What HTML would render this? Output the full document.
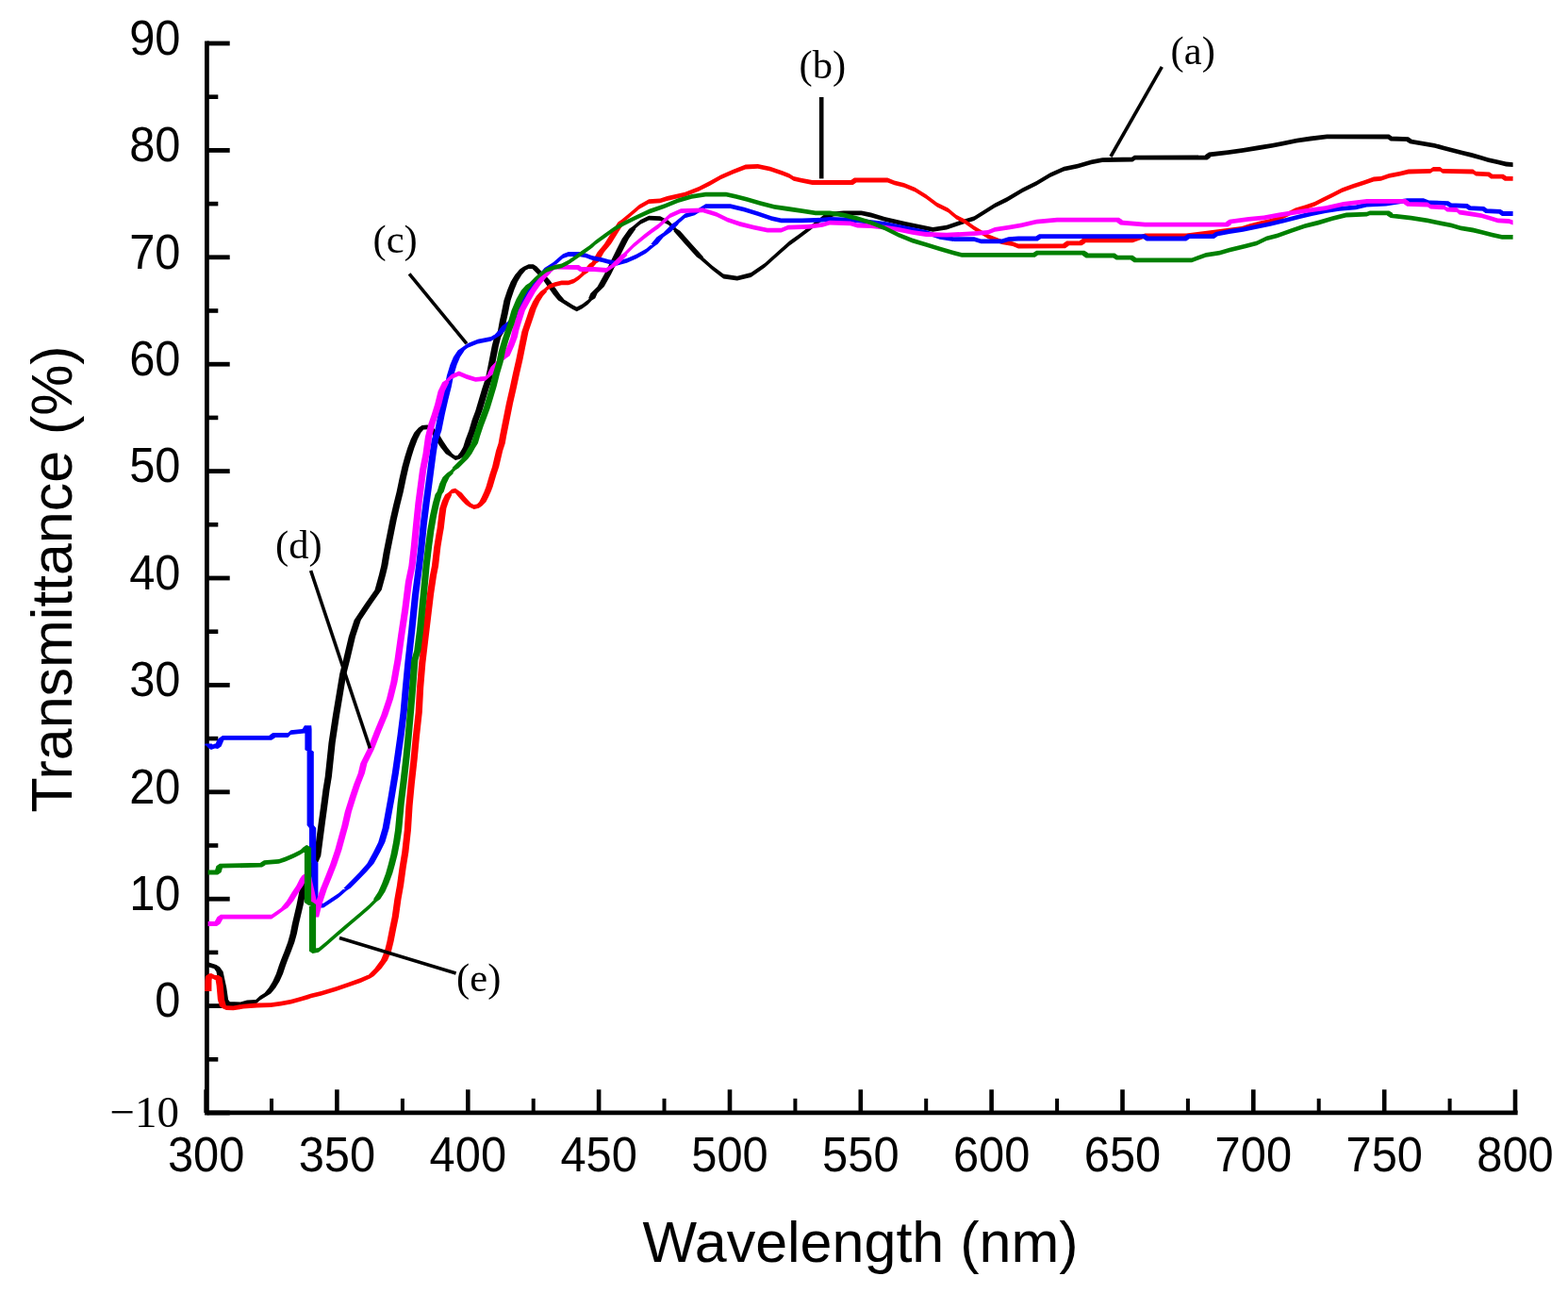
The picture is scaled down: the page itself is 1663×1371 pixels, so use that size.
<!DOCTYPE html>
<html><head><meta charset="utf-8"><title>Transmittance spectra</title>
<style>html,body{margin:0;padding:0;background:#fff;width:1663px;height:1371px;overflow:hidden}svg{display:block}</style>
</head><body>
<svg width="1663" height="1371" viewBox="0 0 1663 1371"><line x1="219.4" y1="43.6" x2="219.4" y2="1182.3000000000002" stroke="#000" stroke-width="4.8"/>
<line x1="217.0" y1="1179.9" x2="1609.6" y2="1179.9" stroke="#000" stroke-width="4.8"/>
<line x1="219.4" y1="46.0" x2="243.7" y2="46.0" stroke="#000" stroke-width="4.8"/>
<line x1="219.4" y1="102.7" x2="231.3" y2="102.7" stroke="#000" stroke-width="4.6"/>
<line x1="219.4" y1="159.4" x2="243.7" y2="159.4" stroke="#000" stroke-width="4.8"/>
<line x1="219.4" y1="216.1" x2="231.3" y2="216.1" stroke="#000" stroke-width="4.6"/>
<line x1="219.4" y1="272.8" x2="243.7" y2="272.8" stroke="#000" stroke-width="4.8"/>
<line x1="219.4" y1="329.5" x2="231.3" y2="329.5" stroke="#000" stroke-width="4.6"/>
<line x1="219.4" y1="386.2" x2="243.7" y2="386.2" stroke="#000" stroke-width="4.8"/>
<line x1="219.4" y1="442.9" x2="231.3" y2="442.9" stroke="#000" stroke-width="4.6"/>
<line x1="219.4" y1="499.6" x2="243.7" y2="499.6" stroke="#000" stroke-width="4.8"/>
<line x1="219.4" y1="556.3" x2="231.3" y2="556.3" stroke="#000" stroke-width="4.6"/>
<line x1="219.4" y1="613.0" x2="243.7" y2="613.0" stroke="#000" stroke-width="4.8"/>
<line x1="219.4" y1="669.7" x2="231.3" y2="669.7" stroke="#000" stroke-width="4.6"/>
<line x1="219.4" y1="726.4" x2="243.7" y2="726.4" stroke="#000" stroke-width="4.8"/>
<line x1="219.4" y1="783.1" x2="231.3" y2="783.1" stroke="#000" stroke-width="4.6"/>
<line x1="219.4" y1="839.8" x2="243.7" y2="839.8" stroke="#000" stroke-width="4.8"/>
<line x1="219.4" y1="896.5" x2="231.3" y2="896.5" stroke="#000" stroke-width="4.6"/>
<line x1="219.4" y1="953.2" x2="243.7" y2="953.2" stroke="#000" stroke-width="4.8"/>
<line x1="219.4" y1="1009.9" x2="231.3" y2="1009.9" stroke="#000" stroke-width="4.6"/>
<line x1="219.4" y1="1066.6" x2="243.7" y2="1066.6" stroke="#000" stroke-width="4.8"/>
<line x1="219.4" y1="1123.3" x2="231.3" y2="1123.3" stroke="#000" stroke-width="4.6"/>
<line x1="219.4" y1="1180.0" x2="243.7" y2="1180.0" stroke="#000" stroke-width="4.8"/>
<line x1="218.6" y1="1155.3" x2="218.6" y2="1179.9" stroke="#000" stroke-width="4.6"/>
<line x1="288.0" y1="1164.8" x2="288.0" y2="1179.9" stroke="#000" stroke-width="4.0"/>
<line x1="357.4" y1="1155.3" x2="357.4" y2="1179.9" stroke="#000" stroke-width="4.6"/>
<line x1="426.9" y1="1164.8" x2="426.9" y2="1179.9" stroke="#000" stroke-width="4.0"/>
<line x1="496.3" y1="1155.3" x2="496.3" y2="1179.9" stroke="#000" stroke-width="4.6"/>
<line x1="565.7" y1="1164.8" x2="565.7" y2="1179.9" stroke="#000" stroke-width="4.0"/>
<line x1="635.1" y1="1155.3" x2="635.1" y2="1179.9" stroke="#000" stroke-width="4.6"/>
<line x1="704.5" y1="1164.8" x2="704.5" y2="1179.9" stroke="#000" stroke-width="4.0"/>
<line x1="774.0" y1="1155.3" x2="774.0" y2="1179.9" stroke="#000" stroke-width="4.6"/>
<line x1="843.4" y1="1164.8" x2="843.4" y2="1179.9" stroke="#000" stroke-width="4.0"/>
<line x1="912.8" y1="1155.3" x2="912.8" y2="1179.9" stroke="#000" stroke-width="4.6"/>
<line x1="982.2" y1="1164.8" x2="982.2" y2="1179.9" stroke="#000" stroke-width="4.0"/>
<line x1="1051.6" y1="1155.3" x2="1051.6" y2="1179.9" stroke="#000" stroke-width="4.6"/>
<line x1="1121.1" y1="1164.8" x2="1121.1" y2="1179.9" stroke="#000" stroke-width="4.0"/>
<line x1="1190.5" y1="1155.3" x2="1190.5" y2="1179.9" stroke="#000" stroke-width="4.6"/>
<line x1="1259.9" y1="1164.8" x2="1259.9" y2="1179.9" stroke="#000" stroke-width="4.0"/>
<line x1="1329.3" y1="1155.3" x2="1329.3" y2="1179.9" stroke="#000" stroke-width="4.6"/>
<line x1="1398.7" y1="1164.8" x2="1398.7" y2="1179.9" stroke="#000" stroke-width="4.0"/>
<line x1="1468.2" y1="1155.3" x2="1468.2" y2="1179.9" stroke="#000" stroke-width="4.6"/>
<line x1="1537.6" y1="1164.8" x2="1537.6" y2="1179.9" stroke="#000" stroke-width="4.0"/>
<line x1="1607.0" y1="1155.3" x2="1607.0" y2="1179.9" stroke="#000" stroke-width="4.6"/>
<text transform="translate(191.5,57.8) scale(0.93,1)" text-anchor="end" font-family="Liberation Sans, Arial, sans-serif" font-size="52.5">90</text>
<text transform="translate(191.5,171.2) scale(0.93,1)" text-anchor="end" font-family="Liberation Sans, Arial, sans-serif" font-size="52.5">80</text>
<text transform="translate(191.5,284.6) scale(0.93,1)" text-anchor="end" font-family="Liberation Sans, Arial, sans-serif" font-size="52.5">70</text>
<text transform="translate(191.5,398.0) scale(0.93,1)" text-anchor="end" font-family="Liberation Sans, Arial, sans-serif" font-size="52.5">60</text>
<text transform="translate(191.5,511.4) scale(0.93,1)" text-anchor="end" font-family="Liberation Sans, Arial, sans-serif" font-size="52.5">50</text>
<text transform="translate(191.5,624.8) scale(0.93,1)" text-anchor="end" font-family="Liberation Sans, Arial, sans-serif" font-size="52.5">40</text>
<text transform="translate(191.5,738.2) scale(0.93,1)" text-anchor="end" font-family="Liberation Sans, Arial, sans-serif" font-size="52.5">30</text>
<text transform="translate(191.5,851.6) scale(0.93,1)" text-anchor="end" font-family="Liberation Sans, Arial, sans-serif" font-size="52.5">20</text>
<text transform="translate(191.5,965.0) scale(0.93,1)" text-anchor="end" font-family="Liberation Sans, Arial, sans-serif" font-size="52.5">10</text>
<text transform="translate(191.5,1078.4) scale(0.93,1)" text-anchor="end" font-family="Liberation Sans, Arial, sans-serif" font-size="52.5">0</text>
<text x="190" y="1194.7" text-anchor="end" font-family="Liberation Serif, Times New Roman, serif" font-size="47">−10</text>
<text transform="translate(218.6,1241.5) scale(0.93,1)" text-anchor="middle" font-family="Liberation Sans, Arial, sans-serif" font-size="52.5">300</text>
<text transform="translate(357.4,1241.5) scale(0.93,1)" text-anchor="middle" font-family="Liberation Sans, Arial, sans-serif" font-size="52.5">350</text>
<text transform="translate(496.3,1241.5) scale(0.93,1)" text-anchor="middle" font-family="Liberation Sans, Arial, sans-serif" font-size="52.5">400</text>
<text transform="translate(635.1,1241.5) scale(0.93,1)" text-anchor="middle" font-family="Liberation Sans, Arial, sans-serif" font-size="52.5">450</text>
<text transform="translate(774.0,1241.5) scale(0.93,1)" text-anchor="middle" font-family="Liberation Sans, Arial, sans-serif" font-size="52.5">500</text>
<text transform="translate(912.8,1241.5) scale(0.93,1)" text-anchor="middle" font-family="Liberation Sans, Arial, sans-serif" font-size="52.5">550</text>
<text transform="translate(1051.6,1241.5) scale(0.93,1)" text-anchor="middle" font-family="Liberation Sans, Arial, sans-serif" font-size="52.5">600</text>
<text transform="translate(1190.5,1241.5) scale(0.93,1)" text-anchor="middle" font-family="Liberation Sans, Arial, sans-serif" font-size="52.5">650</text>
<text transform="translate(1329.3,1241.5) scale(0.93,1)" text-anchor="middle" font-family="Liberation Sans, Arial, sans-serif" font-size="52.5">700</text>
<text transform="translate(1468.2,1241.5) scale(0.93,1)" text-anchor="middle" font-family="Liberation Sans, Arial, sans-serif" font-size="52.5">750</text>
<text transform="translate(1607.0,1241.5) scale(0.93,1)" text-anchor="middle" font-family="Liberation Sans, Arial, sans-serif" font-size="52.5">800</text>
<text x="681.4" y="1337.7" font-family="Liberation Sans, Arial, sans-serif" font-size="61">Wavelength (nm)</text>
<text transform="translate(75.8,861.4) rotate(-90) scale(0.982,1)" x="0" y="0" font-family="Liberation Sans, Arial, sans-serif" font-size="62">Transmittance (%)</text>
<text x="1265.2" y="67.9" text-anchor="middle" font-family="Liberation Serif, Times New Roman, serif" font-size="42.5">(a)</text>
<text x="872.3" y="82.6" text-anchor="middle" font-family="Liberation Serif, Times New Roman, serif" font-size="42.5">(b)</text>
<text x="419.1" y="268.4" text-anchor="middle" font-family="Liberation Serif, Times New Roman, serif" font-size="42.5">(c)</text>
<text x="316.9" y="592.0" text-anchor="middle" font-family="Liberation Serif, Times New Roman, serif" font-size="42.5">(d)</text>
<text x="507.7" y="1051.4" text-anchor="middle" font-family="Liberation Serif, Times New Roman, serif" font-size="42.5">(e)</text>
<path d="M220.6,1020.3 L221.5,1020.6 L221.5,1025.4 L220.6,1025.1ZM221.5,1020.6 L229.4,1022.9 L229.4,1027.7 L221.5,1025.4ZM225.8,1025.3 L233,1025.3 L236.6,1030.3 L229.4,1030.3ZM229.4,1030.3 L236.6,1030.3 L240.2,1046.9 L233,1046.9ZM233,1046.9 L240.2,1046.9 L242.1,1060 L234.9,1060ZM234.9,1060 L242.1,1060 L245.6,1064.5 L238.4,1064.5ZM242,1062.1 L255,1062.6 L255,1067.4 L242,1066.9ZM255,1062.6 L262,1060.6 L262,1065.4 L255,1067.4ZM262,1060.6 L271.3,1060 L271.3,1064.8 L262,1065.4ZM271.3,1060 L275.6,1056 L275.6,1060.8 L271.3,1064.8ZM275.6,1056 L283.6,1051 L283.6,1055.8 L275.6,1060.8ZM285,1047.6 L292.2,1047.6 L287.2,1053.4 L280,1053.4ZM289.3,1040.4 L296.5,1040.4 L292.2,1047.6 L285,1047.6ZM292.9,1032.5 L300.1,1032.5 L296.5,1040.4 L289.3,1040.4ZM295.8,1023.8 L303,1023.8 L300.1,1032.5 L292.9,1032.5ZM298.7,1015.9 L305.9,1015.9 L303,1023.8 L295.8,1023.8ZM301.6,1008.7 L308.8,1008.7 L305.9,1015.9 L298.7,1015.9ZM305.2,999 L312.4,999 L308.8,1008.7 L301.6,1008.7ZM307.7,990 L314.9,990 L312.4,999 L305.2,999ZM309.7,980 L316.9,980 L314.9,990 L307.7,990ZM314.4,960 L321.6,960 L316.9,980 L309.7,980ZM317.9,942.5 L325.1,942.5 L321.6,960 L314.4,960ZM325.4,925 L332.6,925 L325.1,942.5 L317.9,942.5ZM333.1,907.5 L340.3,907.5 L332.6,925 L325.4,925ZM335.4,890 L342.6,890 L340.3,907.5 L333.1,907.5ZM337.7,872.5 L344.9,872.5 L342.6,890 L335.4,890ZM340.1,855 L347.3,855 L344.9,872.5 L337.7,872.5ZM342.4,837.5 L349.6,837.5 L347.3,855 L340.1,855ZM344.7,823.5 L351.9,823.5 L349.6,837.5 L342.4,837.5ZM348.5,787.5 L355.7,787.5 L351.9,823.5 L344.7,823.5ZM352.9,758.4 L360.1,758.4 L355.7,787.5 L348.5,787.5ZM357.3,732.1 L364.5,732.1 L360.1,758.4 L352.9,758.4ZM360.2,714.6 L367.4,714.6 L364.5,732.1 L357.3,732.1ZM363.9,700 L371.1,700 L367.4,714.6 L360.2,714.6ZM369.8,675 L377,675 L371.1,700 L363.9,700ZM375.6,657.5 L382.8,657.5 L377,675 L369.8,675ZM387.3,640 L394.5,640 L382.8,657.5 L375.6,657.5ZM397.5,625.5 L404.7,625.5 L394.5,640 L387.3,640ZM401.9,609.4 L409.1,609.4 L404.7,625.5 L397.5,625.5ZM404.2,600 L411.4,600 L409.1,609.4 L401.9,609.4ZM406.6,585.8 L413.8,585.8 L411.4,600 L404.2,600ZM410.1,568.3 L417.3,568.3 L413.8,585.8 L406.6,585.8ZM413.6,550.8 L420.8,550.8 L417.3,568.3 L410.1,568.3ZM417.1,535.6 L424.3,535.6 L420.8,550.8 L413.6,550.8ZM420.6,521.6 L427.8,521.6 L424.3,535.6 L417.1,535.6ZM423.5,507.6 L430.7,507.6 L427.8,521.6 L420.6,521.6ZM426.4,494.8 L433.6,494.8 L430.7,507.6 L423.5,507.6ZM429.3,484.3 L436.5,484.3 L433.6,494.8 L426.4,494.8ZM432.2,475 L439.4,475 L436.5,484.3 L429.3,484.3ZM435.7,465.7 L442.9,465.7 L439.4,475 L432.2,475ZM439.2,458.7 L446.4,458.7 L442.9,465.7 L435.7,465.7ZM443.9,453.4 L451.1,453.4 L446.4,458.7 L439.2,458.7ZM447.5,451 L453.3,450.4 L453.3,455.2 L447.5,455.8ZM453.3,450.4 L457,452.1 L457,456.9 L453.3,455.2ZM453.4,454.5 L460.6,454.5 L465.1,459.5 L457.9,459.5ZM457.9,459.5 L465.1,459.5 L469.6,467 L462.4,467ZM462.4,467 L469.6,467 L474.6,474.5 L467.4,474.5ZM467.4,474.5 L474.6,474.5 L480,481.2 L472.8,481.2ZM476.4,478.8 L483,483.3 L483,488.1 L476.4,483.6ZM483,483.3 L487.6,482 L487.6,486.8 L483,488.1ZM487.9,479.8 L495.1,479.8 L491.2,484.4 L484,484.4ZM491.2,473.9 L498.4,473.9 L495.1,479.8 L487.9,479.8ZM493.7,466 L500.9,466 L498.4,473.9 L491.2,473.9ZM497.2,456.7 L504.4,456.7 L500.9,466 L493.7,466ZM500.7,445 L507.9,445 L504.4,456.7 L497.2,456.7ZM504.2,435.7 L511.4,435.7 L507.9,445 L500.7,445ZM507.7,424 L514.9,424 L511.4,435.7 L504.2,435.7ZM511.2,412.3 L518.4,412.3 L514.9,424 L507.7,424ZM514.7,401.8 L521.9,401.8 L518.4,412.3 L511.2,412.3ZM517.1,390.2 L524.3,390.2 L521.9,401.8 L514.7,401.8ZM519.4,378.5 L526.6,378.5 L524.3,390.2 L517.1,390.2ZM521.7,366.8 L528.9,366.8 L526.6,378.5 L519.4,378.5ZM524.1,357.5 L531.3,357.5 L528.9,366.8 L521.7,366.8ZM527.9,351 L535.1,351 L531.3,357.5 L524.1,357.5ZM529.9,340 L537.1,340 L535.1,351 L527.9,351ZM531.5,332.9 L538.7,332.9 L537.1,340 L529.9,340ZM534.4,318.4 L541.6,318.4 L538.7,332.9 L531.5,332.9ZM538.1,307.4 L545.3,307.4 L541.6,318.4 L534.4,318.4ZM541.7,298.7 L548.9,298.7 L545.3,307.4 L538.1,307.4ZM546.1,291.4 L553.3,291.4 L548.9,298.7 L541.7,298.7ZM551.2,285.5 L558.4,285.5 L553.3,291.4 L546.1,291.4ZM554.8,283.1 L560.6,280.2 L560.6,285 L554.8,287.9ZM560.6,280.2 L565.7,280.2 L565.7,285 L560.6,285ZM562.1,282.6 L569.3,282.6 L574.4,287.7 L567.2,287.7ZM567.2,287.7 L574.4,287.7 L579.1,292.5 L571.9,292.5ZM571.9,292.5 L579.1,292.5 L583.9,297.9 L576.7,297.9ZM576.7,297.9 L583.9,297.9 L589,305.2 L581.8,305.2ZM581.8,305.2 L589,305.2 L594.1,312.5 L586.9,312.5ZM586.9,312.5 L594.1,312.5 L599.2,318.4 L592,318.4ZM595.6,316 L601.5,319.6 L601.5,324.4 L595.6,320.8ZM601.5,319.6 L607.3,323.2 L607.3,328 L601.5,324.4ZM607.3,323.2 L611.7,325.4 L611.7,330.2 L607.3,328ZM611.7,325.4 L617.5,322.5 L617.5,327.3 L611.7,330.2ZM617.5,322.5 L623.4,318.1 L623.4,322.9 L617.5,327.3ZM623.4,318.1 L627.7,313.8 L627.7,318.6 L623.4,322.9ZM626.4,311.1 L633.6,311.1 L631.3,316.2 L624.1,316.2ZM633.5,304 L640.7,304 L633.6,311.1 L626.4,311.1ZM640.8,290.9 L648,290.9 L640.7,304 L633.5,304ZM648.1,276.3 L655.3,276.3 L648,290.9 L640.8,290.9ZM653.9,264.6 L661.1,264.6 L655.3,276.3 L648.1,276.3ZM659.8,252.9 L667,252.9 L661.1,264.6 L653.9,264.6ZM667.1,242.7 L674.3,242.7 L667,252.9 L659.8,252.9ZM670.7,240.3 L679.4,233 L679.4,237.8 L670.7,245.1ZM679.4,233 L688.2,228.7 L688.2,233.5 L679.4,237.8ZM688.2,228.7 L700.2,229.3 L700.2,234.1 L688.2,233.5ZM700.2,229.3 L709,233.7 L709,238.5 L700.2,234.1ZM709,233.7 L717.7,242.4 L717.7,247.2 L709,238.5ZM714.1,244.8 L721.3,244.8 L733,258 L725.8,258ZM725.8,258 L733,258 L746.1,272.5 L738.9,272.5ZM742.5,270.1 L755.6,281.8 L755.6,286.6 L742.5,274.9ZM755.6,281.8 L767.3,290.6 L767.3,295.4 L755.6,286.6ZM767.3,290.6 L781.9,292.8 L781.9,297.6 L767.3,295.4ZM781.9,292.8 L796.5,289.1 L796.5,293.9 L781.9,297.6ZM796.5,289.1 L811.1,278.9 L811.1,283.7 L796.5,293.9ZM811.1,278.9 L824.2,267.2 L824.2,272 L811.1,283.7ZM824.2,267.2 L837.3,255.6 L837.3,260.4 L824.2,272ZM837.3,255.6 L847.6,248.3 L847.6,253.1 L837.3,260.4ZM847.6,248.3 L859.2,239.5 L859.2,244.3 L847.6,253.1ZM859.2,239.5 L873.8,227.8 L873.8,232.6 L859.2,244.3ZM873.8,227.8 L884,224.6 L884,229.4 L873.8,232.6ZM884,224.6 L894.6,223.5 L894.6,228.3 L884,229.4ZM894.6,223.5 L913.6,223.5 L913.6,228.3 L894.6,228.3ZM913.6,223.5 L923.8,225.6 L923.8,230.4 L913.6,228.3ZM923.8,225.6 L938.4,230 L938.4,234.8 L923.8,230.4ZM938.4,230 L960.2,235.1 L960.2,239.9 L938.4,234.8ZM960.2,235.1 L974.8,238 L974.8,242.8 L960.2,239.9ZM974.8,238 L989.4,241 L989.4,245.8 L974.8,242.8ZM989.4,241 L1004,238.8 L1004,243.6 L989.4,245.8ZM1004,238.8 L1018.6,233.7 L1018.6,238.5 L1004,243.6ZM1018.6,233.7 L1033.2,229.3 L1033.2,234.1 L1018.6,238.5ZM1033.2,229.3 L1044.8,222 L1044.8,226.8 L1033.2,234.1ZM1044.8,222 L1055.1,215.4 L1055.1,220.2 L1044.8,226.8ZM1055.1,215.4 L1068,209.1 L1068,213.9 L1055.1,220.2ZM1068,209.1 L1084.6,199.3 L1084.6,204.1 L1068,213.9ZM1084.6,199.3 L1099.2,192 L1099.2,196.8 L1084.6,204.1ZM1099.2,192 L1113.8,183.2 L1113.8,188 L1099.2,196.8ZM1113.8,183.2 L1128.4,176.7 L1128.4,181.5 L1113.8,188ZM1128.4,176.7 L1142.9,173.8 L1142.9,178.6 L1128.4,181.5ZM1142.9,173.8 L1157.5,169.4 L1157.5,174.2 L1142.9,178.6ZM1157.5,169.4 L1169.2,167.2 L1169.2,172 L1157.5,174.2ZM1169.2,167.2 L1201.3,166.6 L1201.3,171.4 L1169.2,172ZM1199.4,167.2 L1206.6,167.2 L1204.9,169 L1197.7,169ZM1203,164.8 L1280.4,164.6 L1280.4,169.4 L1203,169.6ZM1278.4,164 L1285.6,164 L1284,167 L1276.8,167ZM1282,161.6 L1302.3,159.2 L1302.3,164 L1282,166.4ZM1302.3,159.2 L1318.4,157 L1318.4,161.8 L1302.3,164ZM1318.4,157 L1335.9,154.1 L1335.9,158.9 L1318.4,161.8ZM1335.9,154.1 L1349,151.9 L1349,156.7 L1335.9,158.9ZM1349,151.9 L1360.7,149.7 L1360.7,154.5 L1349,156.7ZM1360.7,149.7 L1375.2,146.8 L1375.2,151.6 L1360.7,154.5ZM1375.2,146.8 L1389.8,144.6 L1389.8,149.4 L1375.2,151.6ZM1389.8,144.6 L1407.3,142.4 L1407.3,147.2 L1389.8,149.4ZM1407.3,142.4 L1473.3,142.6 L1473.3,147.4 L1407.3,147.2ZM1469.7,145 L1476.9,145 L1478.4,147 L1471.2,147ZM1474.8,144.6 L1493.8,145.3 L1493.8,150.1 L1474.8,149.4ZM1490.2,147.7 L1497.4,147.7 L1498.8,149.9 L1491.6,149.9ZM1495.2,147.5 L1508.4,149.7 L1508.4,154.5 L1495.2,152.3ZM1508.4,149.7 L1521.5,151.9 L1521.5,156.7 L1508.4,154.5ZM1521.5,151.9 L1531.7,154.8 L1531.7,159.6 L1521.5,156.7ZM1531.7,154.8 L1540.4,157 L1540.4,161.8 L1531.7,159.6ZM1540.4,157 L1552.1,159.9 L1552.1,164.7 L1540.4,161.8ZM1552.1,159.9 L1560.9,162.1 L1560.9,166.9 L1552.1,164.7ZM1560.9,162.1 L1571.1,165 L1571.1,169.8 L1560.9,166.9ZM1571.1,165 L1578.4,167.2 L1578.4,172 L1571.1,169.8ZM1578.4,167.2 L1588.6,169.4 L1588.6,174.2 L1578.4,172ZM1588.6,169.4 L1597.3,171.6 L1597.3,176.4 L1588.6,174.2ZM1597.3,171.6 L1604.6,172.3 L1604.6,177.1 L1597.3,176.4ZM229.4,1022.9 L233,1025.3 L229.4,1027.7 L225.8,1025.3ZM242,1062.1 L245.6,1064.5 L242,1066.9 L238.4,1064.5ZM283.6,1051 L287.2,1053.4 L283.6,1055.8 L280,1053.4ZM447.5,451 L451.1,453.4 L447.5,455.8 L443.9,453.4ZM457,452.1 L460.6,454.5 L457,456.9 L453.4,454.5ZM476.4,478.8 L480,481.2 L476.4,483.6 L472.8,481.2ZM487.6,482 L491.2,484.4 L487.6,486.8 L484,484.4ZM554.8,283.1 L558.4,285.5 L554.8,287.9 L551.2,285.5ZM565.7,280.2 L569.3,282.6 L565.7,285 L562.1,282.6ZM595.6,316 L599.2,318.4 L595.6,320.8 L592,318.4ZM627.7,313.8 L631.3,316.2 L627.7,318.6 L624.1,316.2ZM670.7,240.3 L674.3,242.7 L670.7,245.1 L667.1,242.7ZM717.7,242.4 L721.3,244.8 L717.7,247.2 L714.1,244.8ZM742.5,270.1 L746.1,272.5 L742.5,274.9 L738.9,272.5ZM1201.3,166.6 L1204.9,169 L1201.3,171.4 L1197.7,169ZM1203,164.8 L1206.6,167.2 L1203,169.6 L1199.4,167.2ZM1280.4,164.6 L1284,167 L1280.4,169.4 L1276.8,167ZM1282,161.6 L1285.6,164 L1282,166.4 L1278.4,164ZM1473.3,142.6 L1476.9,145 L1473.3,147.4 L1469.7,145ZM1474.8,144.6 L1478.4,147 L1474.8,149.4 L1471.2,147ZM1493.8,145.3 L1497.4,147.7 L1493.8,150.1 L1490.2,147.7ZM1495.2,147.5 L1498.8,149.9 L1495.2,152.3 L1491.6,149.9Z" fill="#000000"/>
<path d="M217.3,1040 L224.5,1040 L224.4,1051 L217.2,1051ZM217.9,1035 L225.1,1035 L224.5,1040 L217.3,1040ZM221.5,1032.6 L224,1032.1 L224,1036.9 L221.5,1037.4ZM224,1032.1 L228,1034.1 L228,1038.9 L224,1036.9ZM228,1034.1 L231.8,1034.1 L231.8,1038.9 L228,1038.9ZM228.2,1036.5 L235.4,1036.5 L236.8,1045 L229.6,1045ZM229.6,1045 L236.8,1045 L238.1,1060 L230.9,1060ZM230.9,1060 L238.1,1060 L240.1,1067 L232.9,1067ZM236.5,1064.6 L240,1066.2 L240,1071 L236.5,1069.4ZM240,1066.2 L247.5,1066.5 L247.5,1071.3 L240,1071ZM247.5,1066.5 L258.3,1064.7 L258.3,1069.5 L247.5,1071.3ZM258.3,1064.7 L272.7,1063.6 L272.7,1068.4 L258.3,1069.5ZM272.7,1063.6 L287.2,1063.3 L287.2,1068.1 L272.7,1068.4ZM287.2,1063.3 L298,1061.8 L298,1066.6 L287.2,1068.1ZM298,1061.8 L308.8,1059.7 L308.8,1064.5 L298,1066.6ZM308.8,1059.7 L319.6,1056.8 L319.6,1061.6 L308.8,1064.5ZM319.6,1056.8 L326.8,1054.6 L326.8,1059.4 L319.6,1061.6ZM326.8,1054.6 L330,1053.5 L330,1058.3 L326.8,1059.4ZM330,1053.5 L340.5,1050.9 L340.5,1055.7 L330,1058.3ZM340.5,1050.9 L356.3,1046.3 L356.3,1051.1 L340.5,1055.7ZM356.3,1046.3 L369.4,1041.7 L369.4,1046.5 L356.3,1051.1ZM369.4,1041.7 L382.5,1037.1 L382.5,1041.9 L369.4,1046.5ZM382.5,1037.1 L393,1032.5 L393,1037.3 L382.5,1041.9ZM397.3,1027 L404.5,1027 L396.6,1034.9 L389.4,1034.9ZM403.9,1017.9 L411.1,1017.9 L404.5,1027 L397.3,1027ZM407.8,1008.7 L415,1008.7 L411.1,1017.9 L403.9,1017.9ZM410.4,998.2 L417.6,998.2 L415,1008.7 L407.8,1008.7ZM413,985 L420.2,985 L417.6,998.2 L410.4,998.2ZM415.7,971.9 L422.9,971.9 L420.2,985 L413,985ZM418.3,953.5 L425.5,953.5 L422.9,971.9 L415.7,971.9ZM420.9,939.1 L428.1,939.1 L425.5,953.5 L418.3,953.5ZM423.6,919.4 L430.8,919.4 L428.1,939.1 L420.9,939.1ZM426.2,903.6 L433.4,903.6 L430.8,919.4 L423.6,919.4ZM428.8,880 L436,880 L433.4,903.6 L426.2,903.6ZM430.4,854.6 L437.6,854.6 L436,880 L428.8,880ZM432.6,831.3 L439.8,831.3 L437.6,854.6 L430.4,854.6ZM435.5,805 L442.7,805 L439.8,831.3 L432.6,831.3ZM437.7,781.7 L444.9,781.7 L442.7,805 L435.5,805ZM440.6,755.4 L447.8,755.4 L444.9,781.7 L437.7,781.7ZM442,729.2 L449.2,729.2 L447.8,755.4 L440.6,755.4ZM444.2,702.9 L451.4,702.9 L449.2,729.2 L442,729.2ZM446.9,680 L454.1,680 L451.4,702.9 L444.2,702.9ZM449.9,655 L457.1,655 L454.1,680 L446.9,680ZM452.9,630 L460.1,630 L457.1,655 L449.9,655ZM455.9,610 L463.1,610 L460.1,630 L452.9,630ZM457.9,600 L465.1,600 L463.1,610 L455.9,610ZM460.2,580 L467.4,580 L465.1,600 L457.9,600ZM462.5,566 L469.7,566 L467.4,580 L460.2,580ZM463.6,560 L470.8,560 L469.7,566 L462.5,566ZM464.9,548.7 L472.1,548.7 L470.8,560 L463.6,560ZM466.2,538.9 L473.4,538.9 L472.1,548.7 L464.9,548.7ZM468.9,531 L476.1,531 L473.4,538.9 L466.2,538.9ZM472.1,524.5 L479.3,524.5 L476.1,531 L468.9,531ZM475.7,522.1 L479,518.8 L479,523.6 L475.7,526.9ZM479,518.8 L483,517.8 L483,522.6 L479,523.6ZM483,517.8 L486.2,520.1 L486.2,524.9 L483,522.6ZM482.6,522.5 L489.8,522.5 L493.1,526.4 L485.9,526.4ZM485.9,526.4 L493.1,526.4 L497.1,531 L489.9,531ZM489.9,531 L497.1,531 L501,535 L493.8,535ZM497.4,532.6 L502.7,535.2 L502.7,540 L497.4,537.4ZM502.7,535.2 L507.9,533.9 L507.9,538.7 L502.7,540ZM508.2,532.3 L515.4,532.3 L511.5,536.3 L504.3,536.3ZM510.9,527.1 L518.1,527.1 L515.4,532.3 L508.2,532.3ZM513.5,521.2 L520.7,521.2 L518.1,527.1 L510.9,527.1ZM515.5,515.9 L522.7,515.9 L520.7,521.2 L513.5,521.2ZM517.4,509.4 L524.6,509.4 L522.7,515.9 L515.5,515.9ZM519.4,502.8 L526.6,502.8 L524.6,509.4 L517.4,509.4ZM522,494.9 L529.2,494.9 L526.6,502.8 L519.4,502.8ZM524,486.4 L531.2,486.4 L529.2,494.9 L522,494.9ZM526,477.9 L533.2,477.9 L531.2,486.4 L524,486.4ZM528.6,470 L535.8,470 L533.2,477.9 L526,477.9ZM529.9,462.5 L537.1,462.5 L535.8,470 L528.6,470ZM533.4,445 L540.6,445 L537.1,462.5 L529.9,462.5ZM536.9,427.5 L544.1,427.5 L540.6,445 L533.4,445ZM540.4,412.3 L547.6,412.3 L544.1,427.5 L536.9,427.5ZM543.9,396 L551.1,396 L547.6,412.3 L540.4,412.3ZM547.4,380.8 L554.6,380.8 L551.1,396 L543.9,396ZM549.7,369.2 L556.9,369.2 L554.6,380.8 L547.4,380.8ZM553.3,351.7 L560.5,351.7 L556.9,369.2 L549.7,369.2ZM558.5,336.6 L565.7,336.6 L560.5,351.7 L553.3,351.7ZM561.4,327.8 L568.6,327.8 L565.7,336.6 L558.5,336.6ZM565.1,319.8 L572.3,319.8 L568.6,327.8 L561.4,327.8ZM568.7,314 L575.9,314 L572.3,319.8 L565.1,319.8ZM573.1,308.9 L580.3,308.9 L575.9,314 L568.7,314ZM576.7,306.5 L582.5,301.4 L582.5,306.2 L576.7,311.3ZM582.5,301.4 L588.4,299.2 L588.4,304 L582.5,306.2ZM588.4,299.2 L595.6,297.4 L595.6,302.2 L588.4,304ZM595.6,297.4 L602.9,297.4 L602.9,302.2 L595.6,302.2ZM602.9,297.4 L608.8,295.5 L608.8,300.3 L602.9,302.2ZM608.8,295.5 L613.9,291.9 L613.9,296.7 L608.8,300.3ZM613.9,291.9 L619.7,286.8 L619.7,291.6 L613.9,296.7ZM621.2,284.1 L628.4,284.1 L623.3,289.2 L616.1,289.2ZM624.9,279.7 L632.1,279.7 L628.4,284.1 L621.2,284.1ZM628.5,277.3 L631.3,275.3 L631.3,280.1 L628.5,282.1ZM633.5,267.5 L640.7,267.5 L634.9,277.7 L627.7,277.7ZM640.8,258.8 L648,258.8 L640.7,267.5 L633.5,267.5ZM648.1,247.1 L655.3,247.1 L648,258.8 L640.8,258.8ZM655.4,235.4 L662.6,235.4 L655.3,247.1 L648.1,247.1ZM659,233 L667.8,225.7 L667.8,230.5 L659,237.8ZM667.8,225.7 L678,217 L678,221.8 L667.8,230.5ZM678,217 L688.2,211.2 L688.2,216 L678,221.8ZM688.2,211.2 L700,210.4 L700,215.2 L688.2,216ZM700,210.4 L707.5,208.1 L707.5,212.9 L700,215.2ZM707.5,208.1 L726.5,203.8 L726.5,208.6 L707.5,212.9ZM726.5,203.8 L741.1,197.9 L741.1,202.7 L726.5,208.6ZM741.1,197.9 L752.7,192.1 L752.7,196.9 L741.1,202.7ZM752.7,192.1 L764.4,185.5 L764.4,190.3 L752.7,196.9ZM764.4,185.5 L777.5,179.7 L777.5,184.5 L764.4,190.3ZM777.5,179.7 L790.7,174.6 L790.7,179.4 L777.5,184.5ZM790.7,174.6 L803.8,173.9 L803.8,178.7 L790.7,179.4ZM803.8,173.9 L816.9,176.8 L816.9,181.6 L803.8,178.7ZM816.9,176.8 L830,181.2 L830,186 L816.9,181.6ZM830,181.2 L837,184 L837,188.8 L830,186ZM837,184 L841.7,187 L841.7,191.8 L837,188.8ZM841.7,187 L849.3,188.7 L849.3,193.5 L841.7,191.8ZM849.3,188.7 L861.5,191.1 L861.5,195.9 L849.3,193.5ZM861.5,191.1 L904.7,191.1 L904.7,195.9 L861.5,195.9ZM902.4,191 L909.6,191 L908.3,193.5 L901.1,193.5ZM906,188.6 L941.3,188.6 L941.3,193.4 L906,193.4ZM941.3,188.6 L948.6,191.4 L948.6,196.2 L941.3,193.4ZM948.6,191.4 L958.8,194 L958.8,198.8 L948.6,196.2ZM958.8,194 L970.4,198.7 L970.4,203.5 L958.8,198.8ZM970.4,198.7 L982.1,206 L982.1,210.8 L970.4,203.5ZM982.1,206 L993.8,214.7 L993.8,219.5 L982.1,210.8ZM993.8,214.7 L1005.5,220.5 L1005.5,225.3 L993.8,219.5ZM1005.5,220.5 L1014.2,227.8 L1014.2,232.6 L1005.5,225.3ZM1014.2,227.8 L1023,232.2 L1023,237 L1014.2,232.6ZM1023,232.2 L1033.2,239.5 L1033.2,244.3 L1023,237ZM1033.2,239.5 L1047.8,248.3 L1047.8,253.1 L1033.2,244.3ZM1047.8,248.3 L1062.4,254.1 L1062.4,258.9 L1047.8,253.1ZM1062.4,254.1 L1074,256.3 L1074,261.1 L1062.4,258.9ZM1074,256.3 L1080,258.6 L1080,263.4 L1074,261.1ZM1080,258.6 L1129.8,258.4 L1129.8,263.2 L1080,263.4ZM1127.7,257.9 L1134.9,257.9 L1133.4,260.8 L1126.2,260.8ZM1131.3,255.5 L1147.3,255.5 L1147.3,260.3 L1131.3,260.3ZM1145.2,254.9 L1152.4,254.9 L1150.9,257.9 L1143.7,257.9ZM1148.8,252.5 L1201.3,252.5 L1201.3,257.3 L1148.8,257.3ZM1201.3,252.5 L1214.4,247.6 L1214.4,252.4 L1201.3,257.3ZM1214.4,247.6 L1258.2,247.6 L1258.2,252.4 L1214.4,252.4ZM1258.2,247.6 L1281.9,244.5 L1281.9,249.3 L1258.2,252.4ZM1281.9,244.5 L1299.4,242.3 L1299.4,247.1 L1281.9,249.3ZM1299.4,242.3 L1316.9,240.1 L1316.9,244.9 L1299.4,247.1ZM1316.9,240.1 L1325.6,237.2 L1325.6,242 L1316.9,244.9ZM1325.6,237.2 L1337.3,234.3 L1337.3,239.1 L1325.6,242ZM1337.3,234.3 L1347.5,232.1 L1347.5,236.9 L1337.3,239.1ZM1347.5,232.1 L1357.7,228.6 L1357.7,233.4 L1347.5,236.9ZM1357.7,228.6 L1366,224.6 L1366,229.4 L1357.7,233.4ZM1366,224.6 L1373.8,220.4 L1373.8,225.2 L1366,229.4ZM1373.8,220.4 L1384,217.5 L1384,222.3 L1373.8,225.2ZM1384,217.5 L1394.2,213.9 L1394.2,218.7 L1384,222.3ZM1394.2,213.9 L1403,209.5 L1403,214.3 L1394.2,218.7ZM1403,209.5 L1413.2,204.4 L1413.2,209.2 L1403,214.3ZM1413.2,204.4 L1423.4,199.3 L1423.4,204.1 L1413.2,209.2ZM1423.4,199.3 L1435.1,194.9 L1435.1,199.7 L1423.4,204.1ZM1435.1,194.9 L1446.7,191.3 L1446.7,196.1 L1435.1,199.7ZM1446.7,191.3 L1457,187.6 L1457,192.4 L1446.7,196.1ZM1457,187.6 L1464.6,186.9 L1464.6,191.7 L1457,192.4ZM1464.6,186.9 L1473.3,184 L1473.3,188.8 L1464.6,191.7ZM1473.3,184 L1485,181.8 L1485,186.6 L1473.3,188.8ZM1485,181.8 L1493.8,179.6 L1493.8,184.4 L1485,186.6ZM1493.8,179.6 L1517.1,178.9 L1517.1,183.7 L1493.8,184.4ZM1517.1,178.9 L1520,176.9 L1520,181.7 L1517.1,183.7ZM1520,176.9 L1527.3,176.9 L1527.3,181.7 L1520,181.7ZM1527.3,176.9 L1530,178.9 L1530,183.7 L1527.3,181.7ZM1530,178.9 L1562.3,179.6 L1562.3,184.4 L1530,183.7ZM1562.3,179.6 L1565.2,181.8 L1565.2,186.6 L1562.3,184.4ZM1565.2,181.8 L1579.8,182.5 L1579.8,187.3 L1565.2,186.6ZM1576.2,184.9 L1583.4,184.9 L1584.9,187.1 L1577.7,187.1ZM1581.3,184.7 L1594.4,184.7 L1594.4,189.5 L1581.3,189.5ZM1590.8,187.1 L1598,187.1 L1599.5,189.3 L1592.3,189.3ZM1595.9,186.9 L1604.6,186.9 L1604.6,191.7 L1595.9,191.7ZM221.5,1032.6 L225.1,1035 L221.5,1037.4 L217.9,1035ZM231.8,1034.1 L235.4,1036.5 L231.8,1038.9 L228.2,1036.5ZM236.5,1064.6 L240.1,1067 L236.5,1069.4 L232.9,1067ZM393,1032.5 L396.6,1034.9 L393,1037.3 L389.4,1034.9ZM475.7,522.1 L479.3,524.5 L475.7,526.9 L472.1,524.5ZM486.2,520.1 L489.8,522.5 L486.2,524.9 L482.6,522.5ZM497.4,532.6 L501,535 L497.4,537.4 L493.8,535ZM507.9,533.9 L511.5,536.3 L507.9,538.7 L504.3,536.3ZM576.7,306.5 L580.3,308.9 L576.7,311.3 L573.1,308.9ZM619.7,286.8 L623.3,289.2 L619.7,291.6 L616.1,289.2ZM628.5,277.3 L632.1,279.7 L628.5,282.1 L624.9,279.7ZM631.3,275.3 L634.9,277.7 L631.3,280.1 L627.7,277.7ZM659,233 L662.6,235.4 L659,237.8 L655.4,235.4ZM904.7,191.1 L908.3,193.5 L904.7,195.9 L901.1,193.5ZM906,188.6 L909.6,191 L906,193.4 L902.4,191ZM1129.8,258.4 L1133.4,260.8 L1129.8,263.2 L1126.2,260.8ZM1131.3,255.5 L1134.9,257.9 L1131.3,260.3 L1127.7,257.9ZM1147.3,255.5 L1150.9,257.9 L1147.3,260.3 L1143.7,257.9ZM1148.8,252.5 L1152.4,254.9 L1148.8,257.3 L1145.2,254.9ZM1579.8,182.5 L1583.4,184.9 L1579.8,187.3 L1576.2,184.9ZM1581.3,184.7 L1584.9,187.1 L1581.3,189.5 L1577.7,187.1ZM1594.4,184.7 L1598,187.1 L1594.4,189.5 L1590.8,187.1ZM1595.9,186.9 L1599.5,189.3 L1595.9,191.7 L1592.3,189.3Z" fill="#ff0000"/>
<path d="M217.4,788.5 L224.6,788.5 L224.2,790.4 L217,790.4ZM217.4,788.5 L224.6,788.5 L227.4,792.6 L220.2,792.6ZM223.8,790.2 L228,788.6 L228,793.4 L223.8,795ZM228,788.6 L231,789.1 L231,793.9 L228,793.4ZM230.4,784.6 L237.6,784.6 L234.6,791.5 L227.4,791.5ZM232.4,782.4 L239.6,782.4 L237.6,784.6 L230.4,784.6ZM236,780 L288,780 L288,784.8 L236,784.8ZM285.8,779.5 L293,779.5 L291.6,782.4 L284.4,782.4ZM289.4,777.1 L305.4,777.1 L305.4,781.9 L289.4,781.9ZM305.4,777.1 L308.4,774.2 L308.4,779 L305.4,781.9ZM308.4,774.2 L323,772.7 L323,777.5 L308.4,779ZM323,769.3 L330.2,769.3 L326.6,775.1 L319.4,775.1ZM323,769.3 L330.2,769.3 L330.6,773 L323.4,773ZM323.4,773 L330.6,773 L330.6,795 L323.4,795ZM327,792.6 L329.2,794.6 L329.2,799.4 L327,797.4ZM325.6,797 L332.8,797 L332.8,875 L325.6,875ZM325.6,875 L332.8,875 L335.2,878 L328,878ZM328,878 L335.2,878 L335.2,912 L328,912ZM328,912 L335.2,912 L337.4,915 L330.2,915ZM330.2,915 L337.4,915 L337.4,955 L330.2,955ZM330.2,955 L337.4,955 L340.6,960 L333.4,960ZM337,957.6 L343.1,957.7 L343.1,962.5 L337,962.4ZM343.1,957.7 L351,952.4 L351,957.2 L343.1,962.5ZM351,952.4 L358.9,947.2 L358.9,952 L351,957.2ZM358.9,947.2 L368.1,939.3 L368.1,944.1 L358.9,952ZM373.7,932.5 L380.9,932.5 L371.7,941.7 L364.5,941.7ZM381.5,924.6 L388.7,924.6 L380.9,932.5 L373.7,932.5ZM389.4,915.4 L396.6,915.4 L388.7,924.6 L381.5,924.6ZM396,903.6 L403.2,903.6 L396.6,915.4 L389.4,915.4ZM401.2,893.1 L408.4,893.1 L403.2,903.6 L396,903.6ZM405.6,878 L412.8,878 L408.4,893.1 L401.2,893.1ZM411.4,845.9 L418.6,845.9 L412.8,878 L405.6,878ZM415.8,819.6 L423,819.6 L418.6,845.9 L411.4,845.9ZM418.7,799.2 L425.9,799.2 L423,819.6 L415.8,819.6ZM421.6,778.8 L428.8,778.8 L425.9,799.2 L418.7,799.2ZM424.5,755.4 L431.7,755.4 L428.8,778.8 L421.6,778.8ZM426.7,730.6 L433.9,730.6 L431.7,755.4 L424.5,755.4ZM428.9,707.3 L436.1,707.3 L433.9,730.6 L426.7,730.6ZM429.6,700 L436.8,700 L436.1,707.3 L428.9,707.3ZM433.2,667.8 L440.4,667.8 L436.8,700 L429.6,700ZM436.9,631.3 L444.1,631.3 L440.4,667.8 L433.2,667.8ZM441,600 L448.2,600 L444.1,631.3 L436.9,631.3ZM443.3,580 L450.5,580 L448.2,600 L441,600ZM445.6,556.6 L452.8,556.6 L450.5,580 L443.3,580ZM448.5,533.3 L455.7,533.3 L452.8,556.6 L445.6,556.6ZM450.9,515.8 L458.1,515.8 L455.7,533.3 L448.5,533.3ZM453.2,498.3 L460.4,498.3 L458.1,515.8 L450.9,515.8ZM455.5,480.8 L462.7,480.8 L460.4,498.3 L453.2,498.3ZM457.9,465.7 L465.1,465.7 L462.7,480.8 L455.5,480.8ZM461.1,456.7 L468.3,456.7 L465.1,465.7 L457.9,465.7ZM464.6,439.2 L471.8,439.2 L468.3,456.7 L461.1,456.7ZM468.1,424 L475.3,424 L471.8,439.2 L464.6,439.2ZM471.6,410 L478.8,410 L475.3,424 L468.1,424ZM473.9,398.3 L481.1,398.3 L478.8,410 L471.6,410ZM477.4,386.7 L484.6,386.7 L481.1,398.3 L473.9,398.3ZM480.9,378.5 L488.1,378.5 L484.6,386.7 L477.4,386.7ZM485.6,371.5 L492.8,371.5 L488.1,378.5 L480.9,378.5ZM489.2,369.1 L496.2,363.9 L496.2,368.7 L489.2,373.9ZM496.2,363.9 L506.7,359.8 L506.7,364.6 L496.2,368.7ZM506.7,359.8 L520.7,356.9 L520.7,361.7 L506.7,364.6ZM520.7,356.9 L527.7,352.8 L527.7,357.6 L520.7,361.7ZM528.7,350.5 L535.9,350.5 L531.3,355.2 L524.1,355.2ZM532.4,345.5 L539.6,345.5 L535.9,350.5 L528.7,350.5ZM536,343.1 L541,338.6 L541,343.4 L536,347.9ZM541,338.6 L546,334.1 L546,338.9 L541,343.4ZM546,334.1 L551.2,329.1 L551.2,333.9 L546,338.9ZM550.5,325.6 L557.7,325.6 L554.8,331.5 L547.6,331.5ZM554.1,316.9 L561.3,316.9 L557.7,325.6 L550.5,325.6ZM557,311.1 L564.2,311.1 L561.3,316.9 L554.1,316.9ZM560,306.7 L567.2,306.7 L564.2,311.1 L557,311.1ZM568.4,295 L575.6,295 L567.2,306.7 L560,306.7ZM577.5,284.1 L584.7,284.1 L575.6,295 L568.4,295ZM581.1,281.7 L586.9,278 L586.9,282.8 L581.1,286.5ZM586.9,278 L592,273.6 L592,278.4 L586.9,282.8ZM592,273.6 L597.1,269.3 L597.1,274.1 L592,278.4ZM597.1,269.3 L602.9,267.1 L602.9,271.9 L597.1,274.1ZM602.9,267.1 L613.9,267.1 L613.9,271.9 L602.9,271.9ZM613.9,267.1 L621.2,268.5 L621.2,273.3 L613.9,271.9ZM621.2,268.5 L627,270.7 L627,275.5 L621.2,273.3ZM627,270.7 L630,271.5 L630,276.3 L627,275.5ZM630,271.5 L638.6,273.2 L638.6,278 L630,276.3ZM638.6,273.2 L645.9,275.3 L645.9,280.1 L638.6,278ZM645.9,275.3 L654.6,276.8 L654.6,281.6 L645.9,280.1ZM654.6,276.8 L664.8,273.9 L664.8,278.7 L654.6,281.6ZM664.8,273.9 L675.1,269.5 L675.1,274.3 L664.8,278.7ZM675.1,269.5 L685.3,263.7 L685.3,268.5 L675.1,274.3ZM685.3,263.7 L694,256.4 L694,261.2 L685.3,268.5ZM696.4,251.5 L703.6,251.5 L697.6,258.8 L690.4,258.8ZM700,249.1 L707.5,243.9 L707.5,248.7 L700,253.9ZM712.7,237.5 L719.9,237.5 L711.1,246.3 L703.9,246.3ZM716.3,235.1 L726.5,226.4 L726.5,231.2 L716.3,239.9ZM726.5,226.4 L736.7,223.5 L736.7,228.3 L726.5,231.2ZM736.7,223.5 L748.4,216.2 L748.4,221 L736.7,228.3ZM748.4,216.2 L774.6,216.2 L774.6,221 L748.4,221ZM774.6,216.2 L789.2,219.8 L789.2,224.6 L774.6,221ZM789.2,219.8 L803.8,224.2 L803.8,229 L789.2,224.6ZM803.8,224.2 L818.4,229.3 L818.4,234.1 L803.8,229ZM818.4,229.3 L828.6,231.5 L828.6,236.3 L818.4,234.1ZM828.6,231.5 L850.5,231.5 L850.5,236.3 L828.6,236.3ZM850.5,231.5 L872.4,230.8 L872.4,235.6 L850.5,236.3ZM872.4,230.8 L880,230 L880,234.8 L872.4,235.6ZM880,230 L901.9,230.8 L901.9,235.6 L880,234.8ZM901.9,230.8 L916.5,232.2 L916.5,237 L901.9,235.6ZM916.5,232.2 L938.4,235.1 L938.4,239.9 L916.5,237ZM938.4,235.1 L960.2,239.5 L960.2,244.3 L938.4,239.9ZM960.2,239.5 L982.1,243.9 L982.1,248.7 L960.2,244.3ZM982.1,243.9 L996.7,249 L996.7,253.8 L982.1,248.7ZM996.7,249 L1011.3,251.2 L1011.3,256 L996.7,253.8ZM1011.3,251.2 L1033.2,251.2 L1033.2,256 L1011.3,256ZM1033.2,251.2 L1040.5,253.4 L1040.5,258.2 L1033.2,256ZM1040.5,253.4 L1062.4,253.4 L1062.4,258.2 L1040.5,258.2ZM1062.4,253.4 L1069.6,251.2 L1069.6,256 L1062.4,258.2ZM1069.6,251.2 L1080,250.6 L1080,255.4 L1069.6,256ZM1080,250.6 L1100.6,250.6 L1100.6,255.4 L1080,255.4ZM1098.5,250.6 L1105.7,250.6 L1104.2,253 L1097,253ZM1102.1,248.2 L1214.4,248.2 L1214.4,253 L1102.1,253ZM1210.8,250.6 L1218,250.6 L1219.5,253 L1212.3,253ZM1215.9,250.6 L1258.2,250.6 L1258.2,255.4 L1215.9,255.4ZM1256,250.6 L1263.2,250.6 L1261.8,253 L1254.6,253ZM1259.6,248.2 L1287.7,248.2 L1287.7,253 L1259.6,253ZM1285.6,248.4 L1292.8,248.4 L1291.3,250.6 L1284.1,250.6ZM1289.2,246 L1303.8,243.1 L1303.8,247.9 L1289.2,250.8ZM1303.8,243.1 L1318.4,240.9 L1318.4,245.7 L1303.8,247.9ZM1318.4,240.9 L1332.9,238 L1332.9,242.8 L1318.4,245.7ZM1332.9,238 L1347.5,235 L1347.5,239.8 L1332.9,242.8ZM1347.5,235 L1362.1,231.4 L1362.1,236.2 L1347.5,239.8ZM1362.1,231.4 L1376.7,227.7 L1376.7,232.5 L1362.1,236.2ZM1376.7,227.7 L1391.3,224.1 L1391.3,228.9 L1376.7,232.5ZM1391.3,224.1 L1405.9,221.2 L1405.9,226 L1391.3,228.9ZM1405.9,221.2 L1420.5,219 L1420.5,223.8 L1405.9,226ZM1420.5,219 L1438,217.5 L1438,222.3 L1420.5,223.8ZM1438,217.5 L1449.6,214.6 L1449.6,219.4 L1438,222.3ZM1449.6,214.6 L1470,213.6 L1470,218.4 L1449.6,219.4ZM1470,213.6 L1492.3,210.2 L1492.3,215 L1470,218.4ZM1492.3,210.2 L1509.8,210.2 L1509.8,215 L1492.3,215ZM1509.8,210.2 L1515.6,212.4 L1515.6,217.2 L1509.8,215ZM1515.6,212.4 L1536.1,213.2 L1536.1,218 L1515.6,217.2ZM1532.5,215.6 L1539.7,215.6 L1541.1,217.7 L1533.9,217.7ZM1537.5,215.3 L1556.5,216.1 L1556.5,220.9 L1537.5,220.1ZM1552.9,218.5 L1560.1,218.5 L1561.6,220.7 L1554.4,220.7ZM1558,218.3 L1574,219 L1574,223.8 L1558,223.1ZM1570.4,221.4 L1577.6,221.4 L1579.1,223.6 L1571.9,223.6ZM1575.5,221.2 L1591.5,221.9 L1591.5,226.7 L1575.5,226ZM1587.9,224.3 L1595.1,224.3 L1596.6,226.5 L1589.4,226.5ZM1593,224.1 L1604.6,224.1 L1604.6,228.9 L1593,228.9ZM223.8,790.2 L227.4,792.6 L223.8,795 L220.2,792.6ZM231,789.1 L234.6,791.5 L231,793.9 L227.4,791.5ZM236,780 L239.6,782.4 L236,784.8 L232.4,782.4ZM288,780 L291.6,782.4 L288,784.8 L284.4,782.4ZM289.4,777.1 L293,779.5 L289.4,781.9 L285.8,779.5ZM323,772.7 L326.6,775.1 L323,777.5 L319.4,775.1ZM327,792.6 L330.6,795 L327,797.4 L323.4,795ZM329.2,794.6 L332.8,797 L329.2,799.4 L325.6,797ZM337,957.6 L340.6,960 L337,962.4 L333.4,960ZM368.1,939.3 L371.7,941.7 L368.1,944.1 L364.5,941.7ZM489.2,369.1 L492.8,371.5 L489.2,373.9 L485.6,371.5ZM527.7,352.8 L531.3,355.2 L527.7,357.6 L524.1,355.2ZM536,343.1 L539.6,345.5 L536,347.9 L532.4,345.5ZM551.2,329.1 L554.8,331.5 L551.2,333.9 L547.6,331.5ZM581.1,281.7 L584.7,284.1 L581.1,286.5 L577.5,284.1ZM694,256.4 L697.6,258.8 L694,261.2 L690.4,258.8ZM700,249.1 L703.6,251.5 L700,253.9 L696.4,251.5ZM707.5,243.9 L711.1,246.3 L707.5,248.7 L703.9,246.3ZM716.3,235.1 L719.9,237.5 L716.3,239.9 L712.7,237.5ZM1100.6,250.6 L1104.2,253 L1100.6,255.4 L1097,253ZM1102.1,248.2 L1105.7,250.6 L1102.1,253 L1098.5,250.6ZM1214.4,248.2 L1218,250.6 L1214.4,253 L1210.8,250.6ZM1215.9,250.6 L1219.5,253 L1215.9,255.4 L1212.3,253ZM1258.2,250.6 L1261.8,253 L1258.2,255.4 L1254.6,253ZM1259.6,248.2 L1263.2,250.6 L1259.6,253 L1256,250.6ZM1287.7,248.2 L1291.3,250.6 L1287.7,253 L1284.1,250.6ZM1289.2,246 L1292.8,248.4 L1289.2,250.8 L1285.6,248.4ZM1536.1,213.2 L1539.7,215.6 L1536.1,218 L1532.5,215.6ZM1537.5,215.3 L1541.1,217.7 L1537.5,220.1 L1533.9,217.7ZM1556.5,216.1 L1560.1,218.5 L1556.5,220.9 L1552.9,218.5ZM1558,218.3 L1561.6,220.7 L1558,223.1 L1554.4,220.7ZM1574,219 L1577.6,221.4 L1574,223.8 L1570.4,221.4ZM1575.5,221.2 L1579.1,223.6 L1575.5,226 L1571.9,223.6ZM1591.5,221.9 L1595.1,224.3 L1591.5,226.7 L1587.9,224.3ZM1593,224.1 L1596.6,226.5 L1593,228.9 L1589.4,226.5Z" fill="#0000ff"/>
<path d="M220.6,977.1 L230,977.1 L230,981.9 L220.6,981.9ZM230.4,972.2 L237.6,972.2 L233.6,979.5 L226.4,979.5ZM234,969.8 L288,969.8 L288,974.6 L234,974.6ZM288,969.8 L295.2,964.7 L295.2,969.5 L288,974.6ZM295.2,964.7 L301.7,960 L301.7,964.8 L295.2,969.5ZM303.9,955.4 L311.1,955.4 L305.3,962.4 L298.1,962.4ZM309.7,946 L316.9,946 L311.1,955.4 L303.9,955.4ZM314.4,939 L321.6,939 L316.9,946 L309.7,946ZM317.9,932 L325.1,932 L321.6,939 L314.4,939ZM320.2,928.5 L327.4,928.5 L325.1,932 L317.9,932ZM323.8,926.1 L326,925.6 L326,930.4 L323.8,930.9ZM322.4,928 L329.6,928 L333.6,945 L326.4,945ZM326.4,945 L333.6,945 L336.8,960 L329.6,960ZM329.6,960 L336.8,960 L338.1,972.5 L330.9,972.5ZM334.3,958.8 L341.5,958.8 L338.1,972.5 L330.9,972.5ZM339.5,943 L346.7,943 L341.5,958.8 L334.3,958.8ZM344.8,929.9 L352,929.9 L346.7,943 L339.5,943ZM350,916.8 L357.2,916.8 L352,929.9 L344.8,929.9ZM355.3,901 L362.5,901 L357.2,916.8 L350,916.8ZM359.6,885.3 L366.8,885.3 L362.5,901 L355.3,901ZM362.2,876 L369.4,876 L366.8,885.3 L359.6,885.3ZM365.7,860.8 L372.9,860.8 L369.4,876 L362.2,876ZM370.4,845.7 L377.6,845.7 L372.9,860.8 L365.7,860.8ZM375.1,831.7 L382.3,831.7 L377.6,845.7 L370.4,845.7ZM379.7,820 L386.9,820 L382.3,831.7 L375.1,831.7ZM382.2,809.4 L389.4,809.4 L386.9,820 L379.7,820ZM389.5,794.8 L396.7,794.8 L389.4,809.4 L382.2,809.4ZM396.8,775.9 L404,775.9 L396.7,794.8 L389.5,794.8ZM404.1,758.4 L411.3,758.4 L404,775.9 L396.8,775.9ZM410,740.8 L417.2,740.8 L411.3,758.4 L404.1,758.4ZM414.3,723.3 L421.5,723.3 L417.2,740.8 L410,740.8ZM416.4,711 L423.6,711 L421.5,723.3 L414.3,723.3ZM418.4,700 L425.6,700 L423.6,711 L416.4,711ZM421.9,675 L429.1,675 L425.6,700 L418.4,700ZM426.2,645.9 L433.4,645.9 L429.1,675 L421.9,675ZM429.9,616.7 L437.1,616.7 L433.4,645.9 L426.2,645.9ZM433.4,600 L440.6,600 L437.1,616.7 L429.9,616.7ZM435.7,580 L442.9,580 L440.6,600 L433.4,600ZM438,556.6 L445.2,556.6 L442.9,580 L435.7,580ZM440.4,533.3 L447.6,533.3 L445.2,556.6 L438,556.6ZM442.7,515.8 L449.9,515.8 L447.6,533.3 L440.4,533.3ZM445,498.3 L452.2,498.3 L449.9,515.8 L442.7,515.8ZM448.5,480.8 L455.7,480.8 L452.2,498.3 L445,498.3ZM450.9,463.3 L458.1,463.3 L455.7,480.8 L448.5,480.8ZM454.4,449.3 L461.6,449.3 L458.1,463.3 L450.9,463.3ZM457.6,440 L464.8,440 L461.6,449.3 L454.4,449.3ZM461.1,428.7 L468.3,428.7 L464.8,440 L457.6,440ZM464.6,414.7 L471.8,414.7 L468.3,428.7 L461.1,428.7ZM469.2,405.3 L476.4,405.3 L471.8,414.7 L464.6,414.7ZM472.8,402.9 L478.7,397.1 L478.7,401.9 L472.8,407.7ZM478.7,397.1 L486.8,393.6 L486.8,398.4 L478.7,401.9ZM486.8,393.6 L495,397.1 L495,401.9 L486.8,398.4ZM495,397.1 L504.3,400 L504.3,404.8 L495,401.9ZM504.3,400 L514.8,398.9 L514.8,403.7 L504.3,404.8ZM514.8,398.9 L520.7,393.6 L520.7,398.4 L514.8,403.7ZM520.6,389 L527.8,389 L524.3,396 L517.1,396ZM526.4,383 L533.6,383 L527.8,389 L520.6,389ZM530,380.6 L537,374.9 L537,379.7 L530,385.4ZM538.1,366.8 L545.3,366.8 L540.6,377.3 L533.4,377.3ZM541.6,357.5 L548.8,357.5 L545.3,366.8 L538.1,366.8ZM543.2,350 L550.4,350 L548.8,357.5 L541.6,357.5ZM545,343.9 L552.2,343.9 L550.4,350 L543.2,350ZM549.7,329.3 L556.9,329.3 L552.2,343.9 L545,343.9ZM555.6,318.4 L562.8,318.4 L556.9,329.3 L549.7,329.3ZM560.7,309.6 L567.9,309.6 L562.8,318.4 L555.6,318.4ZM565.8,302.3 L573,302.3 L567.9,309.6 L560.7,309.6ZM571.6,295 L578.8,295 L573,302.3 L565.8,302.3ZM577.4,289 L584.6,289 L578.8,295 L571.6,295ZM581,286.6 L588.4,280.6 L588.4,285.4 L581,291.4ZM588.4,280.6 L602.9,280.9 L602.9,285.7 L588.4,285.4ZM602.9,280.9 L613.9,281.1 L613.9,285.9 L602.9,285.7ZM610.3,283.5 L617.5,283.5 L618.6,285.5 L611.4,285.5ZM615,283.1 L630,283.1 L630,287.9 L615,287.9ZM630,283.1 L643,284.1 L643,288.9 L630,287.9ZM643,284.1 L651.7,278.3 L651.7,283.1 L643,288.9ZM658.3,270.4 L665.5,270.4 L655.3,280.7 L648.1,280.7ZM661.9,268 L672.1,257.8 L672.1,262.6 L661.9,272.8ZM672.1,257.8 L683.8,248.1 L683.8,252.9 L672.1,262.6ZM683.8,248.1 L691,242.6 L691,247.4 L683.8,252.9ZM691,242.6 L698.8,237.1 L698.8,241.9 L691,247.4ZM698.8,237.1 L710.4,226.4 L710.4,231.2 L698.8,241.9ZM710.4,226.4 L722.1,221.3 L722.1,226.1 L710.4,231.2ZM722.1,221.3 L745.4,220.5 L745.4,225.3 L722.1,226.1ZM745.4,220.5 L760,224.9 L760,229.7 L745.4,225.3ZM760,224.9 L771.7,230.8 L771.7,235.6 L760,229.7ZM771.7,230.8 L784.8,235.1 L784.8,239.9 L771.7,235.6ZM784.8,235.1 L799.4,238.8 L799.4,243.6 L784.8,239.9ZM799.4,238.8 L814,241.7 L814,246.5 L799.4,243.6ZM814,241.7 L828.6,241.7 L828.6,246.5 L814,246.5ZM828.6,241.7 L835.9,238.8 L835.9,243.6 L828.6,246.5ZM835.9,238.8 L857.8,238 L857.8,242.8 L835.9,243.6ZM857.8,238 L872.4,235.9 L872.4,240.7 L857.8,242.8ZM872.4,235.9 L880,233.7 L880,238.5 L872.4,240.7ZM880,233.7 L901.9,234.4 L901.9,239.2 L880,238.5ZM901.9,234.4 L909.2,236.6 L909.2,241.4 L901.9,239.2ZM909.2,236.6 L923.8,237.3 L923.8,242.1 L909.2,241.4ZM923.8,237.3 L938.4,238.8 L938.4,243.6 L923.8,242.1ZM938.4,238.8 L952.9,241 L952.9,245.8 L938.4,243.6ZM952.9,241 L967.5,243.9 L967.5,248.7 L952.9,245.8ZM967.5,243.9 L982.1,246.1 L982.1,250.9 L967.5,248.7ZM982.1,246.1 L1004,246.8 L1004,251.6 L982.1,250.9ZM1004,246.8 L1033.2,245.3 L1033.2,250.1 L1004,251.6ZM1033.2,245.3 L1047.8,243.9 L1047.8,248.7 L1033.2,250.1ZM1047.8,243.9 L1055.1,241 L1055.1,245.8 L1047.8,248.7ZM1055.1,241 L1070,238.7 L1070,243.5 L1055.1,245.8ZM1070,238.7 L1083.1,236.5 L1083.1,241.3 L1070,243.5ZM1083.1,236.5 L1099.2,232.8 L1099.2,237.6 L1083.1,241.3ZM1099.2,232.8 L1121.1,230.7 L1121.1,235.5 L1099.2,237.6ZM1121.1,230.7 L1186.7,230.7 L1186.7,235.5 L1121.1,235.5ZM1183.1,233.1 L1190.3,233.1 L1191.8,236 L1184.6,236ZM1188.2,233.6 L1214.4,235.8 L1214.4,240.6 L1188.2,238.4ZM1214.4,235.8 L1302.3,235.8 L1302.3,240.6 L1214.4,240.6ZM1300.2,235.2 L1307.4,235.2 L1305.9,238.2 L1298.7,238.2ZM1303.8,232.8 L1324.2,229.9 L1324.2,234.7 L1303.8,237.6ZM1324.2,229.9 L1340.2,228.5 L1340.2,233.3 L1324.2,234.7ZM1340.2,228.5 L1356.3,225.6 L1356.3,230.4 L1340.2,233.3ZM1356.3,225.6 L1369.4,223.4 L1369.4,228.2 L1356.3,230.4ZM1369.4,223.4 L1384,221.2 L1384,226 L1369.4,228.2ZM1384,221.2 L1405.9,218.3 L1405.9,223.1 L1384,226ZM1405.9,218.3 L1424.8,213.9 L1424.8,218.7 L1405.9,223.1ZM1424.8,213.9 L1449.6,211 L1449.6,215.8 L1424.8,218.7ZM1449.6,211 L1490.8,211 L1490.8,215.8 L1449.6,215.8ZM1487.2,213.4 L1494.4,213.4 L1495.9,216.3 L1488.7,216.3ZM1492.3,213.9 L1514.2,214.6 L1514.2,219.4 L1492.3,218.7ZM1514.2,214.6 L1517.1,216.8 L1517.1,221.6 L1514.2,219.4ZM1517.1,216.8 L1531.7,217.5 L1531.7,222.3 L1517.1,221.6ZM1531.7,217.5 L1534.6,219.7 L1534.6,224.5 L1531.7,222.3ZM1534.6,219.7 L1545,220.1 L1545,224.9 L1534.6,224.5ZM1545,220.1 L1547.7,222.6 L1547.7,227.4 L1545,224.9ZM1547.7,222.6 L1558,224.1 L1558,228.9 L1547.7,227.4ZM1558,224.1 L1571.1,226.3 L1571.1,231.1 L1558,228.9ZM1571.1,226.3 L1581.3,229.2 L1581.3,234 L1571.1,231.1ZM1581.3,229.2 L1588.6,231.4 L1588.6,236.2 L1581.3,234ZM1588.6,231.4 L1600.3,232.1 L1600.3,236.9 L1588.6,236.2ZM1600.3,232.1 L1604.6,233.6 L1604.6,238.4 L1600.3,236.9ZM230,977.1 L233.6,979.5 L230,981.9 L226.4,979.5ZM234,969.8 L237.6,972.2 L234,974.6 L230.4,972.2ZM301.7,960 L305.3,962.4 L301.7,964.8 L298.1,962.4ZM323.8,926.1 L327.4,928.5 L323.8,930.9 L320.2,928.5ZM326,925.6 L329.6,928 L326,930.4 L322.4,928ZM472.8,402.9 L476.4,405.3 L472.8,407.7 L469.2,405.3ZM520.7,393.6 L524.3,396 L520.7,398.4 L517.1,396ZM530,380.6 L533.6,383 L530,385.4 L526.4,383ZM537,374.9 L540.6,377.3 L537,379.7 L533.4,377.3ZM581,286.6 L584.6,289 L581,291.4 L577.4,289ZM613.9,281.1 L617.5,283.5 L613.9,285.9 L610.3,283.5ZM615,283.1 L618.6,285.5 L615,287.9 L611.4,285.5ZM651.7,278.3 L655.3,280.7 L651.7,283.1 L648.1,280.7ZM661.9,268 L665.5,270.4 L661.9,272.8 L658.3,270.4ZM1186.7,230.7 L1190.3,233.1 L1186.7,235.5 L1183.1,233.1ZM1188.2,233.6 L1191.8,236 L1188.2,238.4 L1184.6,236ZM1302.3,235.8 L1305.9,238.2 L1302.3,240.6 L1298.7,238.2ZM1303.8,232.8 L1307.4,235.2 L1303.8,237.6 L1300.2,235.2ZM1490.8,211 L1494.4,213.4 L1490.8,215.8 L1487.2,213.4ZM1492.3,213.9 L1495.9,216.3 L1492.3,218.7 L1488.7,216.3Z" fill="#ff00ff"/>
<path d="M220.6,922.6 L231,922.6 L231,927.4 L220.6,927.4ZM229.4,918.2 L236.6,918.2 L234.6,925 L227.4,925ZM233,915.8 L278,914.8 L278,919.6 L233,920.6ZM276.4,914.6 L283.6,914.6 L281.6,917.2 L274.4,917.2ZM280,912.2 L295.8,910.9 L295.8,915.7 L280,917ZM295.8,910.9 L302.8,908.6 L302.8,913.4 L295.8,915.7ZM302.8,908.6 L311,905.1 L311,909.9 L302.8,913.4ZM311,905.1 L318,901.6 L318,906.4 L311,909.9ZM318,901.6 L322,899.1 L322,903.9 L318,906.4ZM321.4,898.5 L328.6,898.5 L325.6,901.5 L318.4,901.5ZM325,896.1 L326.5,896.6 L326.5,901.4 L325,900.9ZM322.9,899 L330.1,899 L330.1,957 L322.9,957ZM326.5,954.6 L331.5,956.6 L331.5,961.4 L326.5,959.4ZM327.9,959 L335.1,959 L335.1,1008.5 L327.9,1008.5ZM331.5,1006.1 L337.9,1004.9 L337.9,1009.7 L331.5,1010.9ZM337.9,1004.9 L345.8,998.4 L345.8,1003.2 L337.9,1009.7ZM345.8,998.4 L356.3,989.2 L356.3,994 L345.8,1003.2ZM356.3,989.2 L364.1,982.6 L364.1,987.4 L356.3,994ZM364.1,982.6 L373.3,974.8 L373.3,979.6 L364.1,987.4ZM373.3,974.8 L382.5,966.9 L382.5,971.7 L373.3,979.6ZM382.5,966.9 L391.7,959 L391.7,963.8 L382.5,971.7ZM391.7,959 L399.6,951.1 L399.6,955.9 L391.7,963.8ZM401.2,945.6 L408.4,945.6 L403.2,953.5 L396,953.5ZM405.2,936.5 L412.4,936.5 L408.4,945.6 L401.2,945.6ZM409.1,926 L416.3,926 L412.4,936.5 L405.2,936.5ZM411.7,916.8 L418.9,916.8 L416.3,926 L409.1,926ZM414.4,906.3 L421.6,906.3 L418.9,916.8 L411.7,916.8ZM417,893.1 L424.2,893.1 L421.6,906.3 L414.4,906.3ZM419,880 L426.2,880 L424.2,893.1 L417,893.1ZM421.6,851.7 L428.8,851.7 L426.2,880 L419,880ZM424.5,828.4 L431.7,828.4 L428.8,851.7 L421.6,851.7ZM427.5,802.1 L434.7,802.1 L431.7,828.4 L424.5,828.4ZM429.6,780.2 L436.8,780.2 L434.7,802.1 L427.5,802.1ZM431.8,755.4 L439,755.4 L436.8,780.2 L429.6,780.2ZM434,729.2 L441.2,729.2 L439,755.4 L431.8,755.4ZM436.2,700 L443.4,700 L441.2,729.2 L434,729.2ZM439.2,690 L446.4,690 L443.4,700 L436.2,700ZM442,667.8 L449.2,667.8 L446.4,690 L439.2,690ZM445.6,631.3 L452.8,631.3 L449.2,667.8 L442,667.8ZM448.5,600 L455.7,600 L452.8,631.3 L445.6,631.3ZM450.9,580 L458.1,580 L455.7,600 L448.5,600ZM453.2,562.4 L460.4,562.4 L458.1,580 L450.9,580ZM455.9,547 L463.1,547 L460.4,562.4 L453.2,562.4ZM458.9,533.5 L466.1,533.5 L463.1,547 L455.9,547ZM461.6,524 L468.8,524 L466.1,533.5 L458.9,533.5ZM463.6,521.2 L470.8,521.2 L468.8,524 L461.6,524ZM466.2,512.7 L473.4,512.7 L470.8,521.2 L463.6,521.2ZM469.5,506.1 L476.7,506.1 L473.4,512.7 L466.2,512.7ZM474.1,501.5 L481.3,501.5 L476.7,506.1 L469.5,506.1ZM477.7,499.1 L483,493.8 L483,498.6 L477.7,503.9ZM484.6,491 L491.8,491 L486.6,496.2 L479.4,496.2ZM489.2,486.4 L496.4,486.4 L491.8,491 L484.6,491ZM493.1,481.2 L500.3,481.2 L496.4,486.4 L489.2,486.4ZM496.4,475.2 L503.6,475.2 L500.3,481.2 L493.1,481.2ZM499.7,470 L506.9,470 L503.6,475.2 L496.4,475.2ZM501.9,462.5 L509.1,462.5 L506.9,470 L499.7,470ZM505.4,452 L512.6,452 L509.1,462.5 L501.9,462.5ZM508.9,442.7 L516.1,442.7 L512.6,452 L505.4,452ZM512.4,433.3 L519.6,433.3 L516.1,442.7 L508.9,442.7ZM515.9,421.7 L523.1,421.7 L519.6,433.3 L512.4,433.3ZM519.4,410 L526.6,410 L523.1,421.7 L515.9,421.7ZM522.9,396 L530.1,396 L526.6,410 L519.4,410ZM526.4,384.3 L533.6,384.3 L530.1,396 L522.9,396ZM528.7,372.7 L535.9,372.7 L533.6,384.3 L526.4,384.3ZM532.2,361 L539.4,361 L535.9,372.7 L528.7,372.7ZM535.7,350.5 L542.9,350.5 L539.4,361 L532.2,361ZM538.1,343.9 L545.3,343.9 L542.9,350.5 L535.7,350.5ZM542.4,329.3 L549.6,329.3 L545.3,343.9 L538.1,343.9ZM547.6,316.9 L554.8,316.9 L549.6,329.3 L542.4,329.3ZM552.7,308.1 L559.9,308.1 L554.8,316.9 L547.6,316.9ZM557.8,302.3 L565,302.3 L559.9,308.1 L552.7,308.1ZM561.4,299.9 L567.2,294.1 L567.2,298.9 L561.4,304.7ZM567.2,294.1 L573,289 L573,293.8 L567.2,298.9ZM573,289 L579.6,283.9 L579.6,288.7 L573,293.8ZM579.6,283.9 L588.4,280.9 L588.4,285.7 L579.6,288.7ZM588.4,280.9 L595.6,279.5 L595.6,284.3 L588.4,285.7ZM595.6,279.5 L602.9,275.8 L602.9,280.6 L595.6,284.3ZM602.9,275.8 L610.2,270.7 L610.2,275.5 L602.9,280.6ZM610.2,270.7 L617.5,265.6 L617.5,270.4 L610.2,275.5ZM617.5,265.6 L624.8,260.5 L624.8,265.3 L617.5,270.4ZM624.8,260.5 L628.5,257.6 L628.5,262.4 L624.8,265.3ZM628.5,257.6 L631.3,254.9 L631.3,259.7 L628.5,262.4ZM631.3,254.9 L641.5,247.6 L641.5,252.4 L631.3,259.7ZM641.5,247.6 L651.7,240.3 L651.7,245.1 L641.5,252.4ZM651.7,240.3 L661.9,234.5 L661.9,239.3 L651.7,245.1ZM661.9,234.5 L675.1,227.9 L675.1,232.7 L661.9,239.3ZM675.1,227.9 L689,221.6 L689,226.4 L675.1,232.7ZM689,221.6 L704.6,216.2 L704.6,221 L689,226.4ZM704.6,216.2 L719.2,210.3 L719.2,215.1 L704.6,221ZM719.2,210.3 L733.8,206 L733.8,210.8 L719.2,215.1ZM733.8,206 L748.4,203.8 L748.4,208.6 L733.8,210.8ZM748.4,203.8 L770.2,203.8 L770.2,208.6 L748.4,208.6ZM770.2,203.8 L780.4,206 L780.4,210.8 L770.2,208.6ZM780.4,206 L792.1,208.9 L792.1,213.7 L780.4,210.8ZM792.1,208.9 L806.7,213.2 L806.7,218 L792.1,213.7ZM806.7,213.2 L821.3,216.9 L821.3,221.7 L806.7,218ZM821.3,216.9 L835.9,219.1 L835.9,223.9 L821.3,221.7ZM835.9,219.1 L850.5,221.3 L850.5,226.1 L835.9,223.9ZM850.5,221.3 L865,223.5 L865,228.3 L850.5,226.1ZM865,223.5 L880,223.5 L880,228.3 L865,228.3ZM880,223.5 L894.6,225.6 L894.6,230.4 L880,228.3ZM894.6,225.6 L909.2,229.3 L909.2,234.1 L894.6,230.4ZM909.2,229.3 L923.8,233.7 L923.8,238.5 L909.2,234.1ZM923.8,233.7 L938.4,239.5 L938.4,244.3 L923.8,238.5ZM938.4,239.5 L952.9,246.8 L952.9,251.6 L938.4,244.3ZM952.9,246.8 L967.5,252.6 L967.5,257.4 L952.9,251.6ZM967.5,252.6 L982.1,257 L982.1,261.8 L967.5,257.4ZM982.1,257 L996.7,261.4 L996.7,266.2 L982.1,261.8ZM996.7,261.4 L1011.3,265.8 L1011.3,270.6 L996.7,266.2ZM1011.3,265.8 L1020,268 L1020,272.8 L1011.3,270.6ZM1020,268 L1097.7,267.9 L1097.7,272.7 L1020,272.8ZM1095.6,268.1 L1102.8,268.1 L1101.3,270.3 L1094.1,270.3ZM1099.2,265.7 L1150.2,265.7 L1150.2,270.5 L1099.2,270.5ZM1146.6,268.1 L1153.8,268.1 L1155.3,271 L1148.1,271ZM1151.7,268.6 L1182.3,268.6 L1182.3,273.4 L1151.7,273.4ZM1178.7,271 L1185.9,271 L1187.4,273.2 L1180.2,273.2ZM1183.8,270.8 L1201.3,270.8 L1201.3,275.6 L1183.8,275.6ZM1197.7,273.2 L1204.9,273.2 L1206.4,275.8 L1199.2,275.8ZM1202.8,273.4 L1264,273.4 L1264,278.2 L1202.8,278.2ZM1264,273.4 L1279,267.9 L1279,272.7 L1264,278.2ZM1279,267.9 L1293.6,265.7 L1293.6,270.5 L1279,272.7ZM1293.6,265.7 L1303.8,262.8 L1303.8,267.6 L1293.6,270.5ZM1303.8,262.8 L1321.3,258.4 L1321.3,263.2 L1303.8,267.6ZM1321.3,258.4 L1332.9,255.5 L1332.9,260.3 L1321.3,263.2ZM1332.9,255.5 L1343.2,250.4 L1343.2,255.2 L1332.9,260.3ZM1343.2,250.4 L1354.8,247.4 L1354.8,252.2 L1343.2,255.2ZM1354.8,247.4 L1369.4,242.3 L1369.4,247.1 L1354.8,252.2ZM1369.4,242.3 L1384,237.2 L1384,242 L1369.4,247.1ZM1384,237.2 L1398.6,233.6 L1398.6,238.4 L1384,242ZM1398.6,233.6 L1413.2,229.2 L1413.2,234 L1398.6,238.4ZM1413.2,229.2 L1427.8,225.6 L1427.8,230.4 L1413.2,234ZM1427.8,225.6 L1449.6,224.8 L1449.6,229.6 L1427.8,230.4ZM1449.6,224.8 L1452.9,223.4 L1452.9,228.2 L1449.6,229.6ZM1452.9,223.4 L1473.3,223.4 L1473.3,228.2 L1452.9,228.2ZM1469.7,225.8 L1476.9,225.8 L1478.4,228.7 L1471.2,228.7ZM1474.8,226.3 L1496.7,228.8 L1496.7,233.6 L1474.8,231.1ZM1496.7,228.8 L1514.2,231.4 L1514.2,236.2 L1496.7,233.6ZM1514.2,231.4 L1527.3,234.3 L1527.3,239.1 L1514.2,236.2ZM1527.3,234.3 L1539,236.5 L1539,241.3 L1527.3,239.1ZM1539,236.5 L1549.2,239.4 L1549.2,244.2 L1539,241.3ZM1549.2,239.4 L1562.3,241.6 L1562.3,246.4 L1549.2,244.2ZM1562.3,241.6 L1571.1,243.8 L1571.1,248.6 L1562.3,246.4ZM1571.1,243.8 L1582.8,246.7 L1582.8,251.5 L1571.1,248.6ZM1582.8,246.7 L1593,248.9 L1593,253.7 L1582.8,251.5ZM1593,248.9 L1604.6,248.9 L1604.6,253.7 L1593,253.7ZM231,922.6 L234.6,925 L231,927.4 L227.4,925ZM233,915.8 L236.6,918.2 L233,920.6 L229.4,918.2ZM278,914.8 L281.6,917.2 L278,919.6 L274.4,917.2ZM280,912.2 L283.6,914.6 L280,917 L276.4,914.6ZM322,899.1 L325.6,901.5 L322,903.9 L318.4,901.5ZM325,896.1 L328.6,898.5 L325,900.9 L321.4,898.5ZM326.5,896.6 L330.1,899 L326.5,901.4 L322.9,899ZM326.5,954.6 L330.1,957 L326.5,959.4 L322.9,957ZM331.5,956.6 L335.1,959 L331.5,961.4 L327.9,959ZM331.5,1006.1 L335.1,1008.5 L331.5,1010.9 L327.9,1008.5ZM399.6,951.1 L403.2,953.5 L399.6,955.9 L396,953.5ZM477.7,499.1 L481.3,501.5 L477.7,503.9 L474.1,501.5ZM483,493.8 L486.6,496.2 L483,498.6 L479.4,496.2ZM561.4,299.9 L565,302.3 L561.4,304.7 L557.8,302.3ZM1097.7,267.9 L1101.3,270.3 L1097.7,272.7 L1094.1,270.3ZM1099.2,265.7 L1102.8,268.1 L1099.2,270.5 L1095.6,268.1ZM1150.2,265.7 L1153.8,268.1 L1150.2,270.5 L1146.6,268.1ZM1151.7,268.6 L1155.3,271 L1151.7,273.4 L1148.1,271ZM1182.3,268.6 L1185.9,271 L1182.3,273.4 L1178.7,271ZM1183.8,270.8 L1187.4,273.2 L1183.8,275.6 L1180.2,273.2ZM1201.3,270.8 L1204.9,273.2 L1201.3,275.6 L1197.7,273.2ZM1202.8,273.4 L1206.4,275.8 L1202.8,278.2 L1199.2,275.8ZM1473.3,223.4 L1476.9,225.8 L1473.3,228.2 L1469.7,225.8ZM1474.8,226.3 L1478.4,228.7 L1474.8,231.1 L1471.2,228.7Z" fill="#008000"/>
<line x1="1178" y1="166" x2="1232.3" y2="70.8" stroke="#000" stroke-width="3.6"/>
<line x1="871.2" y1="103" x2="871.2" y2="189.4" stroke="#000" stroke-width="4.6"/>
<line x1="434.1" y1="290.3" x2="494.9" y2="364.3" stroke="#000" stroke-width="3.6"/>
<line x1="329.6" y1="605" x2="392.4" y2="793.4" stroke="#000" stroke-width="3.6"/>
<line x1="360" y1="994.5" x2="483.6" y2="1032" stroke="#000" stroke-width="3.6"/></svg>
</body></html>
